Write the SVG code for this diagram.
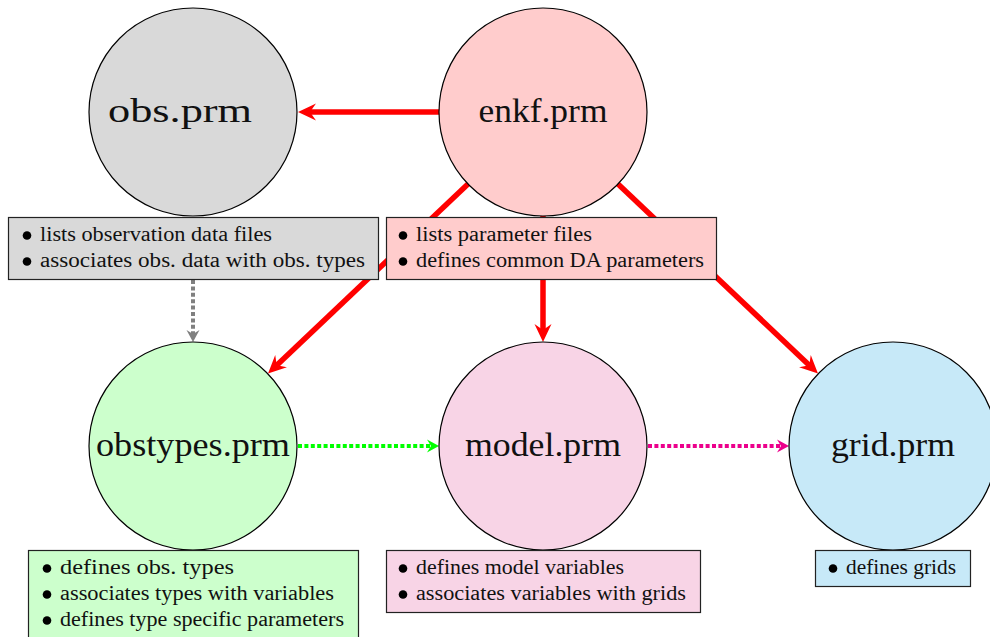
<svg xmlns="http://www.w3.org/2000/svg" width="990" height="637" viewBox="0 0 990 637">
<style>
.circ{stroke:#000;stroke-width:1.2}
.box{stroke:#222;stroke-width:1.2}
.ct{font-family:"Liberation Serif","Times New Roman",serif;font-size:33px;fill:#111;text-anchor:middle}
.bt{font-family:"Liberation Serif","Times New Roman",serif;font-size:20px;fill:#111}
.red{stroke:#ff0000;stroke-width:5.5;fill:none}
.dot{stroke-width:4;stroke-dasharray:4 2.4;fill:none}
</style>
<defs>
<marker id="ar" markerUnits="userSpaceOnUse" viewBox="-10 -10 22 20" markerWidth="22" markerHeight="20" refX="0" refY="0" orient="auto">
<path d="M11,0 L-7,-8.5 L-1,0 L-7,8.5 Z" fill="#ff0000"/>
</marker>
<marker id="ag" markerUnits="userSpaceOnUse" viewBox="-8 -8 18 16" markerWidth="18" markerHeight="16" refX="0" refY="0" orient="auto">
<path d="M8,0 L-4,-6.5 L0,0 L-4,6.5 Z" fill="#808080"/>
</marker>
<marker id="agr" markerUnits="userSpaceOnUse" viewBox="-8 -8 18 16" markerWidth="18" markerHeight="16" refX="0" refY="0" orient="auto">
<path d="M8,0 L-4,-6.5 L0,0 L-4,6.5 Z" fill="#00ff00"/>
</marker>
<marker id="am" markerUnits="userSpaceOnUse" viewBox="-8 -8 18 16" markerWidth="18" markerHeight="16" refX="0" refY="0" orient="auto">
<path d="M8,0 L-4,-6.5 L0,0 L-4,6.5 Z" fill="#ec008c"/>
</marker>
</defs>
<rect width="990" height="637" fill="#fff"/>
<g id="connectors">
<line class="red" x1="440" y1="112" x2="309" y2="112" marker-end="url(#ar)"/>
<line class="red" x1="468" y1="184" x2="276" y2="366" marker-end="url(#ar)"/>
<line class="red" x1="543" y1="216" x2="543" y2="331" marker-end="url(#ar)"/>
<line class="red" x1="618" y1="184" x2="810" y2="366" marker-end="url(#ar)"/>
<line class="dot" stroke="#808080" x1="193" y1="280" x2="193" y2="334" marker-end="url(#ag)"/>
<line class="dot" stroke="#00ff00" x1="298" y1="446" x2="431" y2="446" marker-end="url(#agr)"/>
<line class="dot" stroke="#ec008c" x1="648" y1="446" x2="781" y2="446" marker-end="url(#am)"/>
</g>
<g id="obs">
<circle class="circ" cx="193" cy="112" r="104" fill="#d9d9d9"/>
<text class="ct" x="180" y="122" textLength="144" lengthAdjust="spacingAndGlyphs">obs.prm</text>
<rect class="box" x="8.5" y="217.5" width="370" height="62" fill="#d9d9d9"/>
<circle cx="27" cy="235.5" r="4.3" fill="#000"/>
<circle cx="27" cy="261.5" r="4.3" fill="#000"/>
<text class="bt" x="40" y="241" textLength="232" lengthAdjust="spacingAndGlyphs">lists observation data files</text>
<text class="bt" x="40" y="267" textLength="325" lengthAdjust="spacingAndGlyphs">associates obs. data with obs. types</text>
</g>
<g id="enkf">
<circle class="circ" cx="543" cy="112" r="104" fill="#ffcccc"/>
<text class="ct" x="543" y="122" textLength="129" lengthAdjust="spacingAndGlyphs">enkf.prm</text>
<rect class="box" x="386.5" y="217.5" width="330" height="62" fill="#ffcccc"/>
<circle cx="403" cy="235.5" r="4.3" fill="#000"/>
<circle cx="403" cy="261.5" r="4.3" fill="#000"/>
<text class="bt" x="416" y="241" textLength="176" lengthAdjust="spacingAndGlyphs">lists parameter files</text>
<text class="bt" x="416" y="267" textLength="288" lengthAdjust="spacingAndGlyphs">defines common DA parameters</text>
</g>
<g id="obstypes">
<circle class="circ" cx="193" cy="446" r="104" fill="#ccffcc"/>
<text class="ct" x="193" y="456" textLength="194" lengthAdjust="spacingAndGlyphs">obstypes.prm</text>
<rect class="box" x="28.5" y="550.5" width="330" height="95" fill="#ccffcc"/>
<circle cx="47" cy="568.5" r="4.3" fill="#000"/>
<circle cx="47" cy="594.5" r="4.3" fill="#000"/>
<circle cx="47" cy="620.5" r="4.3" fill="#000"/>
<text class="bt" x="60" y="574" textLength="174" lengthAdjust="spacingAndGlyphs">defines obs. types</text>
<text class="bt" x="60" y="600" textLength="274" lengthAdjust="spacingAndGlyphs">associates types with variables</text>
<text class="bt" x="60" y="626" textLength="284" lengthAdjust="spacingAndGlyphs">defines type specific parameters</text>
</g>
<g id="model">
<circle class="circ" cx="543" cy="446" r="104" fill="#f8d4e6"/>
<text class="ct" x="543" y="456" textLength="156" lengthAdjust="spacingAndGlyphs">model.prm</text>
<rect class="box" x="386.5" y="550.5" width="314" height="62" fill="#f8d4e6"/>
<circle cx="403" cy="568.5" r="4.3" fill="#000"/>
<circle cx="403" cy="594.5" r="4.3" fill="#000"/>
<text class="bt" x="416" y="574" textLength="208" lengthAdjust="spacingAndGlyphs">defines model variables</text>
<text class="bt" x="416" y="600" textLength="270" lengthAdjust="spacingAndGlyphs">associates variables with grids</text>
</g>
<g id="grid">
<circle class="circ" cx="893" cy="446" r="104" fill="#c7e9f8"/>
<text class="ct" x="893" y="456" textLength="124" lengthAdjust="spacingAndGlyphs">grid.prm</text>
<rect class="box" x="815.5" y="550.5" width="155" height="36" fill="#c7e9f8"/>
<circle cx="833" cy="568.5" r="4.3" fill="#000"/>
<text class="bt" x="846" y="574" textLength="110" lengthAdjust="spacingAndGlyphs">defines grids</text>
</g>
</svg>
